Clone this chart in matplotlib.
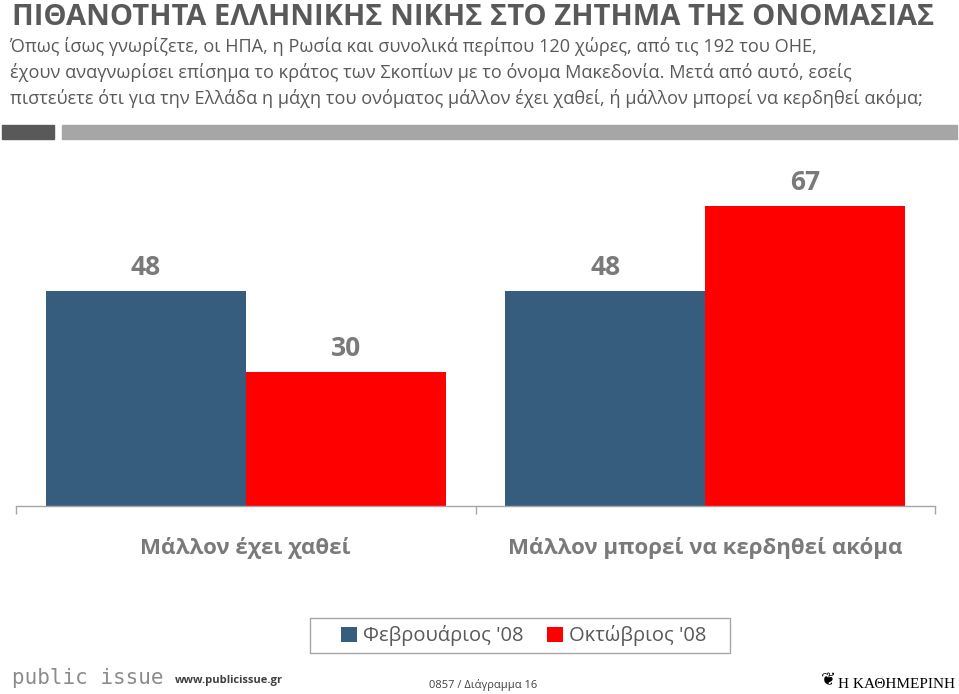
import matplotlib

matplotlib.use("Agg")
import matplotlib.pyplot as plt
from matplotlib.patches import Rectangle

# data
categories = ["Μάλλον έχει χαθεί", "Μάλλον μπορεί να κερδηθεί ακόμα"]
series_names = ["Φεβρουάριος '08", "Οκτώβριος '08"]
feb_values = [48, 48]
oct_values = [30, 67]

title = "ΠΙΘΑΝΟΤΗΤΑ ΕΛΛΗΝΙΚΗΣ ΝΙΚΗΣ ΣΤΟ ΖΗΤΗΜΑ ΤΗΣ ΟΝΟΜΑΣΙΑΣ"
question = [
    "Όπως ίσως γνωρίζετε, οι ΗΠΑ, η Ρωσία και συνολικά περίπου 120 χώρες, από τις 192 του ΟΗΕ,",
    "έχουν αναγνωρίσει επίσημα το κράτος των Σκοπίων με το όνομα Μακεδονία. Μετά από αυτό, εσείς",
    "πιστεύετε ότι για την Ελλάδα η μάχη του ονόματος μάλλον έχει χαθεί, ή μάλλον μπορεί να κερδηθεί ακόμα;",
]

BLUE = "#375d7e"
RED = "#ff0000"
DARK = "#595959"
LABEL = "#7a7a7a"

plt.rcParams["font.family"] = ["Open Sans", "DejaVu Sans"]

W, H = 959, 694
fig = plt.figure(figsize=(W / 100, H / 100), dpi=100)


def fx(px):
    return px / W


def fy(py):
    return 1 - py / H


def box(x0, y0, x1, y1, **kw):
    fig.patches.append(Rectangle((fx(x0), fy(y1)), fx(x1) - fx(x0), fy(y0) - fy(y1),
                                 transform=fig.transFigure, **kw))


# header
fig.text(fx(12), fy(25), title, fontsize=20.95, fontweight="bold", color=DARK,
         va="baseline", ha="left")
for i, line in enumerate(question):
    fig.text(fx(10), fy(47 + 26 * i), line, fontsize=13.1, color=DARK,
             va="center", ha="left")
box(2, 125, 54, 139, color="#595959")
box(62, 125, 957, 139, color="#a6a6a6")

# chart
ax = fig.add_axes([fx(16), fy(506), fx(935) - fx(16), fy(150) - fy(506)])
x = range(len(categories))
bw = 0.435
b1 = ax.bar([i - bw / 2 for i in x], feb_values, bw, color=BLUE, label=series_names[0])
b2 = ax.bar([i + bw / 2 for i in x], oct_values, bw, color=RED, label=series_names[1])
for bars in (b1, b2):
    for rect in bars:
        ax.annotate(f"{rect.get_height():.0f}",
                    (rect.get_x() + rect.get_width() / 2, rect.get_height()),
                    xytext=(0, 7), textcoords="offset points", ha="center",
                    va="bottom", fontsize=19, fontweight="bold", color=LABEL)

ax.set_xlim(-0.5, 1.5)
ax.set_ylim(0, 79.5)
for s in ("top", "right", "left"):
    ax.spines[s].set_visible(False)
ax.spines["bottom"].set_color("#a6a6a6")
ax.spines["bottom"].set_linewidth(1)
ax.set_yticks([])
ax.set_xticks([-0.5, 0.5, 1.5])
ax.set_xticklabels([])
ax.tick_params(axis="x", which="major", length=6, color="#a6a6a6", width=1)
ax.set_xticks([0, 1], minor=True)
ax.set_xticklabels(categories, minor=True, fontsize=16, fontweight="bold", color=LABEL)
ax.tick_params(axis="x", which="minor", length=0, pad=22)

# legend: frame drawn separately for the wide side padding
box(310, 618, 730, 653, facecolor="none", edgecolor="#a6a6a6", linewidth=1)
fig.legend(handles=[b1, b2], labels=series_names, loc="center",
           bbox_to_anchor=(fx(524), fy(636)), ncol=2, frameon=False,
           fontsize=14.5, labelcolor=DARK,
           handlelength=0.8, handleheight=0.8, handletextpad=0.3,
           columnspacing=1.15, borderpad=0, borderaxespad=0)

# footer
fig.text(fx(12), fy(678), "public issue", fontsize=15, color="#8c8c8c",
         family="DejaVu Sans Mono", va="center", ha="left")
fig.text(fx(175), fy(681), "www.publicissue.gr", fontsize=8, fontweight="bold",
         color="#404040", va="center", ha="left")
fig.text(fx(483), fy(685), "0857 / Διάγραμμα 16", fontsize=8, color="#404040",
         va="center", ha="center")
fig.text(fx(955), fy(688), "Η ΚΑΘΗΜΕΡΙΝΗ", fontsize=11, color="black",
         family=["Liberation Serif"], va="baseline", ha="right")
fig.text(fx(828), fy(680), "❦", fontsize=13, color="black",
         family=["DejaVu Sans"], va="center", ha="center")

fig.savefig("out.png", dpi=100)
